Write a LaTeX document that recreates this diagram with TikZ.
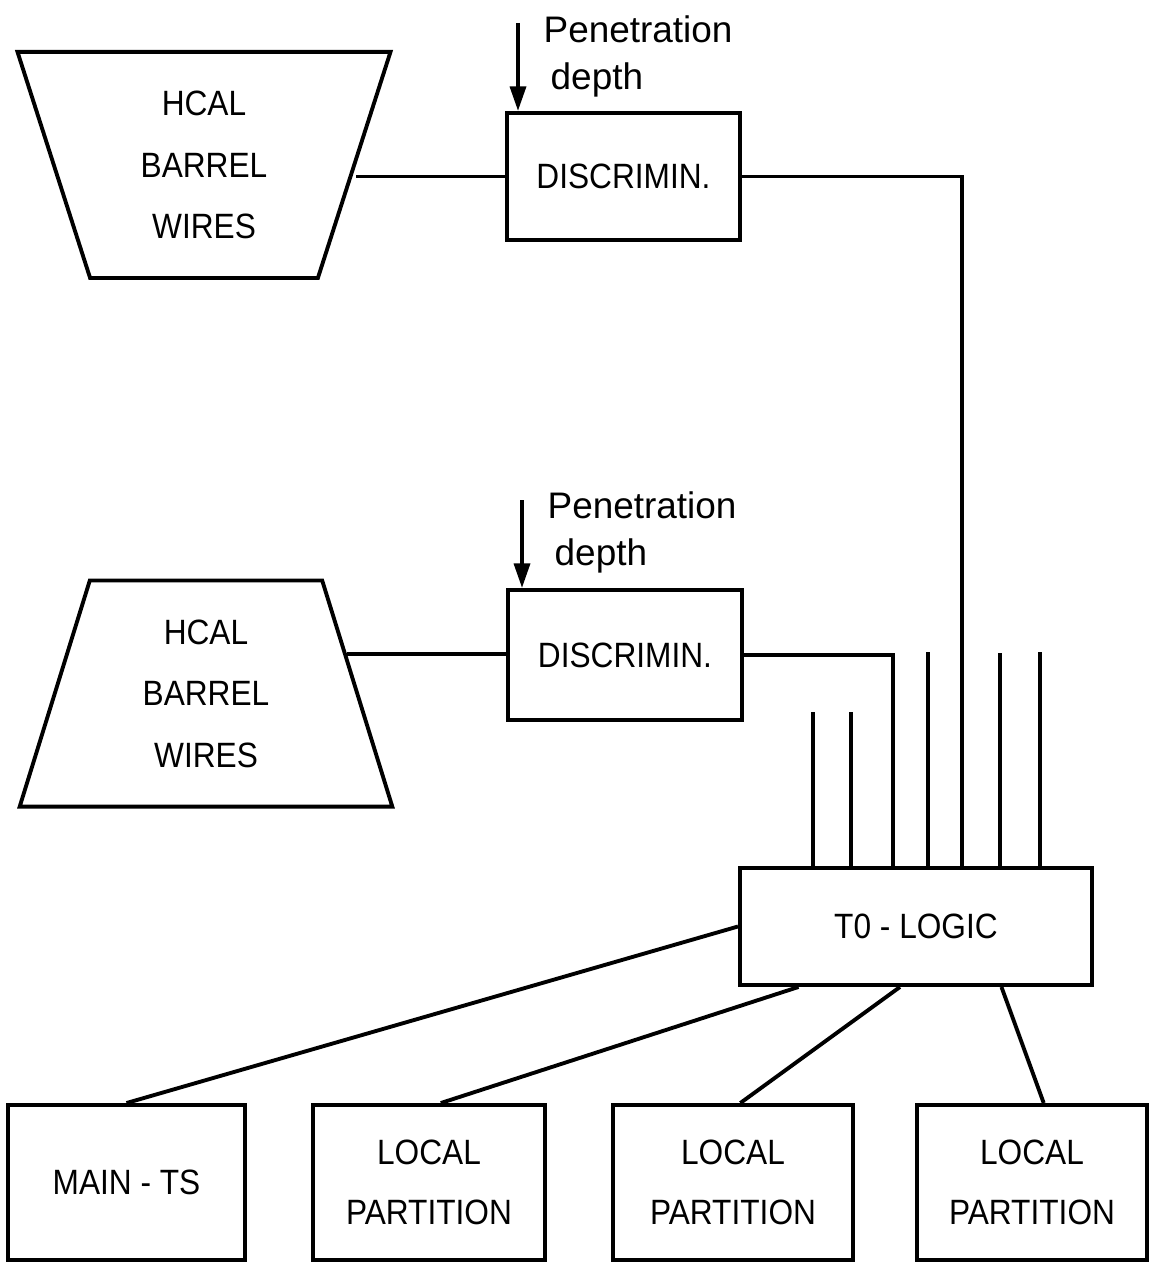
\documentclass[tikz,border=0pt]{standalone}
\usepackage{fontspec}
\setmainfont{Liberation Sans}
\newfontfamily\condfont[FakeStretch=0.9]{Liberation Sans}
\usetikzlibrary{arrows.meta,positioning,shapes.geometric,calc}

\begin{document}
\begin{tikzpicture}[
  x=0.01cm, y=-0.01cm,
  line width=1.1pt,
  box/.style={rectangle, draw, line width=1.1pt, align=center,
              font=\condfont\fontsize{10}{17}\selectfont},
  wires/.style={trapezium, draw, line width=1.1pt, trapezium stretches=true,
                minimum width=3.73cm, minimum height=2.26cm, align=center,
                font=\condfont\fontsize{10}{17.5}\selectfont},
  plabel/.style={font=\fontsize{10.5}{14}\selectfont, align=left, anchor=north west},
  arr/.style={-{Triangle[length=7pt,width=4.5pt]}, line width=1.1pt}
]
\useasboundingbox (0,0) rectangle (1161,1270);

% Upper chain: wires -> discriminator
\node[wires, trapezium left angle=74.4, trapezium right angle=74.4,
      shape border rotate=180] (trapA) at (204,165) {HCAL\\BARREL\\WIRES};
\node[box, minimum width=2.33cm, minimum height=1.27cm] (discA) at (623.5,176.5) {DISCRIMIN.};
\coordinate (inA) at (518,23);
\node[plabel] (penA) at (530,2) {Penetration\\[-0.5pt]\hspace*{2pt}depth};

% Lower chain: wires -> discriminator
\node[wires, trapezium left angle=75.2, trapezium right angle=75.2] (trapB) at (206,693.5) {HCAL\\BARREL\\WIRES};
\node[box, minimum width=2.34cm, minimum height=1.30cm] (discB) at (625,655) {DISCRIMIN.};
\coordinate (inB) at (522,500);
\node[plabel] (penB) at (534,478) {Penetration\\[-0.5pt]\hspace*{2pt}depth};
\coordinate (edgeB) at ($(trapB.top right corner)!0.33!(trapB.bottom right corner)$);

% T0 logic
\node[box, minimum width=3.52cm, minimum height=1.17cm] (t0) at (916,926.5) {T0 - LOGIC};

% Outputs
\node[box, minimum width=2.37cm, minimum height=1.55cm] (mts) at (126.5,1182.5) {MAIN - TS};
\node[box, minimum width=2.32cm, minimum height=1.55cm] (lp1) at (429,1182.5) {LOCAL\\PARTITION};
\node[box, minimum width=2.40cm, minimum height=1.55cm] (lp2) at (733,1182.5) {LOCAL\\PARTITION};
\node[box, minimum width=2.30cm, minimum height=1.55cm] (lp3) at (1032,1182.5) {LOCAL\\PARTITION};

% Arrows
\draw[arr] (inA) -- (inA |- discA.north);
\draw[arr] (inB) -- (inB |- discB.north);

% Connections
\draw (trapA.east |- discA.west) -- (discA.west);
\draw (edgeB) -- (edgeB -| discB.west);
\draw (discA.east) -| (962,0 |- t0.north);
\draw (discB.east) -| (893,0 |- t0.north);
\foreach \x/\y in {813/712, 851/712, 928/652, 1000/653, 1040/652} {
  \coordinate (s\x) at (\x,\y);
  \draw (s\x) -- (s\x |- t0.north);
}
\draw (t0.west) -- (mts.north);
\draw ($(t0.south west)!0.17!(t0.south east)$) -- ($(lp1.north west)!0.55!(lp1.north east)$);
\draw ($(t0.south west)!0.455!(t0.south east)$) -- ($(lp2.north west)!0.53!(lp2.north east)$);
\draw ($(t0.south west)!0.74!(t0.south east)$) -- ($(lp3.north west)!0.55!(lp3.north east)$);
\end{tikzpicture}
\end{document}
